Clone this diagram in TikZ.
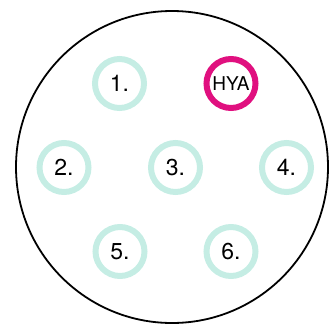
\documentclass[tikz,border=0pt]{standalone}
\usepackage{fontspec}
\setmainfont{TeX Gyre Heros}
\definecolor{pinteal}{HTML}{C5EDE4}
\definecolor{pinmag}{HTML}{E0107F}
\begin{document}
\begin{tikzpicture}[x=1pt,y=-1pt,
  pin/.style={circle,draw=pinteal,line width=6pt,minimum size=49pt,inner sep=0pt,font=\fontsize{23}{23}\selectfont},
  hya/.style={circle,draw=pinmag,line width=6pt,minimum size=49pt,inner sep=0pt,font=\fontsize{19}{19}\selectfont}]
\useasboundingbox (0,0) rectangle (329,327);
\node[circle,draw=black,line width=1.8pt,minimum size=312pt,inner sep=0pt] (body) at (172,167) {};
\node[pin] (p1) at (119.5,83.5) {1.};
\node[hya] (hya) at (231,83.5) {HYA};
\node[pin] (p2) at (64,167.5) {2.};
\node[pin] (p3) at (175.5,167.5) {3.};
\node[pin] (p4) at (286.5,167.5) {4.};
\node[pin] (p5) at (120,251.5) {5.};
\node[pin] (p6) at (231,251.5) {6.};
\end{tikzpicture}
\end{document}
